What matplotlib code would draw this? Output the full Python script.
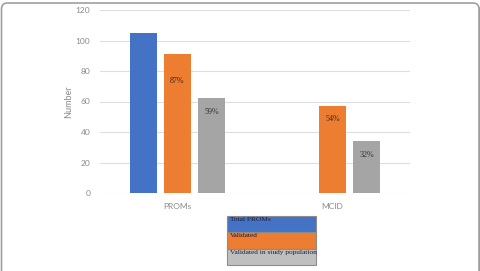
import matplotlib
matplotlib.use("Agg")
import matplotlib.pyplot as plt
from matplotlib.patches import Rectangle, FancyBboxPatch
from matplotlib.lines import Line2D
from matplotlib.transforms import IdentityTransform
import numpy as np

# data
categories = ["PROMs", "MCID"]
series_names = ["Total PROMs", "Validated", "Validated in study population"]
total_proms = [105, 0]
validated = [91, 57]
validated_study = [62, 34]
pct_validated = ["87%", "54%"]
pct_study = ["59%", "32%"]
yticks = [0, 20, 40, 60, 80, 100, 120]

BLUE = "#4472C4"
ORANGE = "#ED7D31"
GREY = "#A5A5A5"
LEGEND_GREY = "#BFBFBF"
TICK_COLOR = "#8a8a8a"
SANS = ["Lato", "DejaVu Sans"]
SERIF = ["Liberation Serif", "DejaVu Serif"]

fig = plt.figure(figsize=(4.81, 2.71), dpi=100)
fig.patch.set_facecolor("white")
ax = fig.add_axes([100 / 481, 1 - 193 / 271, 310 / 481, 183 / 271])

x = np.arange(len(categories))
step = 0.222
width = 0.175

ax.bar(x[:1] - step, total_proms[:1], width, color=BLUE, zorder=2)
ax.bar(x, validated, width, color=ORANGE, zorder=2)
ax.bar(x + step, validated_study, width, color=GREY, zorder=2)

# percentage labels inside the bars (serif, like the original)
offsets_val = [-19, -9]
offsets_std = [-10, -10]
for i in range(len(categories)):
    ax.annotate(pct_validated[i], xy=(x[i], validated[i]), xytext=(0, offsets_val[i]),
                textcoords="offset points", ha="center", va="center",
                fontsize=5.8, family=SERIF, color="#3a2a20")
    ax.annotate(pct_study[i], xy=(x[i] + step, validated_study[i]), xytext=(0, offsets_std[i]),
                textcoords="offset points", ha="center", va="center",
                fontsize=5.8, family=SERIF, color="#333333")

ax.set_xlim(-0.5, 1.5)
ax.set_ylim(0, 120)
ax.set_yticks(yticks)
ax.set_xticks(x)
ax.set_xticklabels(categories, fontsize=6, family=SANS, color=TICK_COLOR)
ax.set_yticklabels([str(t) for t in yticks], fontsize=6, family=SANS, color=TICK_COLOR)
ax.tick_params(axis="both", length=0)
ax.tick_params(axis="y", pad=7)
ax.tick_params(axis="x", pad=7)
ax.set_ylabel("Number", fontsize=6.5, family=SANS, color=TICK_COLOR, labelpad=2)
ax.grid(axis="y", color="#DEDEDE", linewidth=0.8, zorder=0)
for s in ax.spines.values():
    s.set_visible(False)

# table-style legend below the chart
lax = fig.add_axes([227 / 481, 1 - 265 / 271, 89 / 481, 49 / 271])
lax.set_xlim(0, 1)
lax.set_ylim(0, 3)
lax.axis("off")
row_colors = [BLUE, ORANGE, LEGEND_GREY]
for i, (name, col) in enumerate(zip(series_names, row_colors)):
    y0 = 2 - i
    lax.add_patch(Rectangle((0, y0), 1, 1, facecolor=col, edgecolor="#8c8c8c",
                            linewidth=0.8, clip_on=False))
    lax.text(0.03, y0 + 0.93, name, ha="left", va="top", fontsize=5.3,
             family=SERIF, color="#1c1c3c")

# thin rounded frame round the whole picture
fig.patches.append(FancyBboxPatch((1.5, -20), 477.5, 288, boxstyle="round,pad=0,rounding_size=6",
                                  transform=IdentityTransform(), facecolor="none",
                                  edgecolor="#a0a0a0", linewidth=1.2))
fig.lines.append(Line2D([479.5, 479.5], [0, 264], transform=IdentityTransform(),
                        color="#555555", linewidth=1.0))

fig.savefig("out.png", dpi=100)
